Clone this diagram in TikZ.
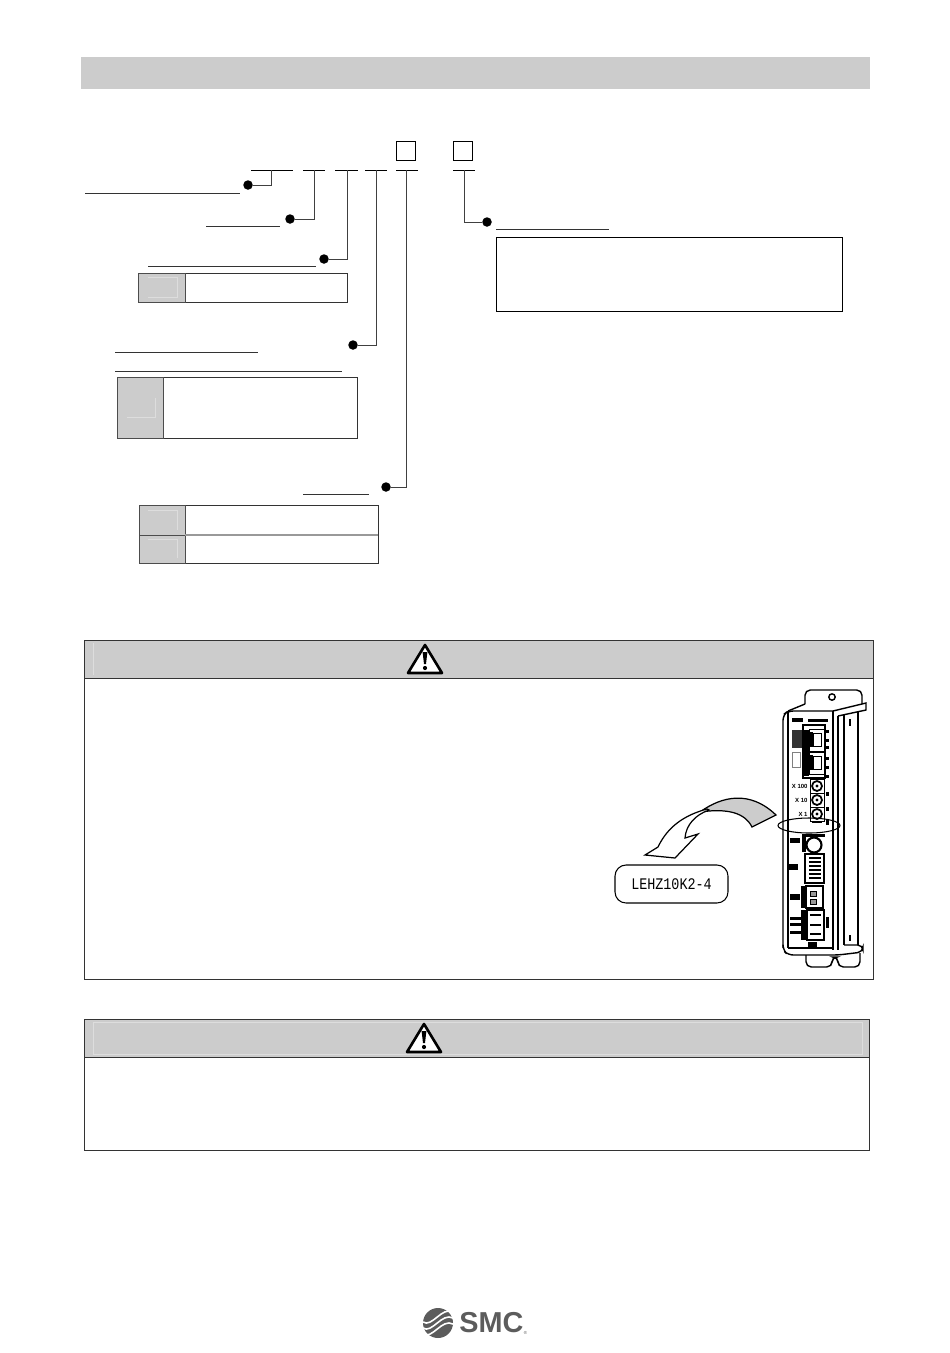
\documentclass[tikz,border=0pt]{standalone}
\usepackage{fontspec}
\setsansfont{Liberation Sans}
\setmonofont{Liberation Mono}
\usepackage{xcolor}
\usetikzlibrary{positioning,calc}
\definecolor{bar}{HTML}{CCCCCC}
\definecolor{ghost}{HTML}{DDDDDD}
\definecolor{logo}{HTML}{5C5C5C}

\begin{document}
\begin{tikzpicture}[
  x=0.02cm, y=-0.02cm,
  line width=0.55pt,
  every node/.style={inner sep=0pt},
  callout/.style={circle, fill=black, minimum size=0.19cm},
  lead/.style={draw=black!75},
  rule/.style={draw=black!80},
  panel/.style={draw=black!80, fill=white},
  cell/.style={draw=black!70, fill=bar},
  ghostline/.style={draw=ghost, line width=0.4pt},
  outline/.style={draw=black, line width=0.8pt},
  knob/.style={circle, draw=black, fill=white, line width=1pt, minimum size=0.2cm},
  tag/.style={font=\sffamily\bfseries\fontsize{3.4}{3.4}\selectfont}
]
  \useasboundingbox (0,0) rectangle (950,1353);

  % Title bar
  \fill[bar] (81,57) rectangle (870,89);

  % Code boxes and their underlines
  \draw[draw=black] (396,141) rectangle (415,160);
  \draw[draw=black] (453,141) rectangle (472,160);
  \foreach \xa/\xb in {251/293,303/325,335/358,365/387,396/418,453/475}
    \draw[draw=black] (\xa,170) -- (\xb,170);

  % Callouts
  \node[callout] (dotSeries) at (248,185) {};
  \node[callout] (dotSize) at (290,219) {};
  \node[callout] (dotStroke) at (324,259) {};
  \node[callout] (dotMotor) at (353,345) {};
  \node[callout] (dotBus) at (386,487) {};
  \node[callout] (dotOption) at (487,222) {};
  \coordinate (tapSeries) at (271,170);
  \coordinate (tapSize) at (314,170);
  \coordinate (tapStroke) at (347,170);
  \coordinate (tapMotor) at (376,170);
  \coordinate (tapBus) at (406,170);
  \coordinate (tapOption) at (464,170);
  \draw[lead] (tapSeries) |- (dotSeries);
  \draw[lead] (tapSize) |- (dotSize);
  \draw[lead] (tapStroke) |- (dotStroke);
  \draw[lead] (tapMotor) |- (dotMotor);
  \draw[lead] (tapBus) |- (dotBus);
  \draw[lead] (tapOption) |- (dotOption);

  % Label underlines
  \draw[rule] (85,193) -- (240,193);
  \draw[rule] (206,226) -- (280,226);
  \draw[rule] (148,266) -- (316,266);
  \draw[rule] (115,352) -- (258,352);
  \draw[rule] (115,371) -- (342,371);
  \draw[rule] (303,494) -- (369,494);
  \draw[rule] (496,229) -- (609,229);

  % Option box
  \draw[panel, draw=black] (496,237) rectangle (842,311);

  % Stroke table
  \draw[panel] (185,273) rectangle (347,302);
  \draw[cell] (138,273) rectangle (185,302);
  \draw[ghostline] (148,277) -- (177,277) -- (177,297) -- (148,297);

  % Motor table
  \draw[panel] (163,377) rectangle (357,438);
  \draw[cell] (117,377) rectangle (163,438);
  \draw[ghostline] (127,417) -- (155,417) -- (155,398);

  % Bus table
  \draw[panel] (185,505) rectangle (378,563);
  \draw[cell] (139,505) rectangle (185,535);
  \draw[cell] (139,535) rectangle (185,563);
  \draw[draw=black!40, line width=0.9pt] (185,535) -- (378,535);
  \draw[ghostline] (148,510) -- (177,510) -- (177,530);
  \draw[ghostline] (148,539) -- (177,539) -- (177,558);

  % First warning frame
  \draw[draw=black!80, fill=white] (84,640) rectangle (873,979);
  \draw[draw=black!80, fill=bar] (84,640) rectangle (873,678);
  \draw[ghostline] (93,643) -- (93,675);
  \draw[draw=black, fill=white, line width=1.5pt, line join=round]
    (425,645) -- (442,673) -- (408,673) -- cycle;
  \fill (422.6,652) -- (427.4,652) -- (426,664) -- (424,664) -- cycle;
  \fill (425,668) circle (2.1);

  % Second warning frame
  \draw[draw=black!80, fill=white] (84,1019) rectangle (869,1150);
  \draw[draw=black!80, fill=bar] (84,1019) rectangle (869,1057);
  \draw[ghostline] (93,1022) rectangle (862,1054);
  \draw[draw=black, fill=white, line width=1.5pt, line join=round]
    (424,1024) -- (441,1052) -- (407,1052) -- cycle;
  \fill (421.6,1031) -- (426.4,1031) -- (425,1043) -- (423,1043) -- cycle;
  \fill (424,1047) circle (2.1);

  % Controller outline
  \draw[outline, rounded corners=3pt] (805,704) -- (805,690) -- (862,690) -- (862,704);
  \draw[outline] (832,697) circle (3.2);
  \draw[outline, rounded corners=3pt] (783,948) -- (783,715) -- (788,711) -- (833,711);
  \draw[outline] (788,711) -- (805,704);
  \draw[outline] (833,711) -- (866,703) -- (866,710) -- (838,716);
  \draw[outline] (788,711) -- (788,948) (833,711) -- (833,950) (838,716) -- (838,950)
    (844,714) -- (844,945) (858,711) -- (858,945);
  \draw[outline, rounded corners=3pt] (783,946) -- (783,950) -- (788,955) -- (838,955) -- (863,952) -- (863,945) -- (844,945);
  \draw[outline] (788,948) -- (833,948);
  \draw[outline, rounded corners=3pt]
    (806,955) -- (806,967) -- (832,967) -- (832,957) -- (838,957) -- (838,967) -- (860,967) -- (860,953);
  \fill (849,719) rectangle (851,726);
  \fill (849,935) rectangle (851,941);

  % Controller front, top half
  \fill (792,718) rectangle (803,722);
  \fill (808,719) rectangle (828,722);
  \fill[black!80] (792,730) rectangle (802,748);
  \draw[draw=black!50] (792,752) rectangle (800,767);
  \draw[draw=black, line width=0.9pt] (803,725) rectangle (825,778);
  \fill (804,730) rectangle (809,776);
  \foreach \y in {729,752} {
    \draw[draw=black] (809,\y) rectangle (824,\y+22);
    \fill (809,\y+3) rectangle (813,\y+18);
    \draw[draw=black] (813,\y+4) rectangle (821,\y+17);
  }
  \foreach \y in {730,739,746,757,766,775}
    \fill (826,\y) rectangle (829,\y+3);
  \foreach \y/\val in {786/X 100,800/X 10,814/X 1} {
    \draw[draw=black] (810,\y-7) rectangle (824,\y+7);
    \node[knob] at (817,\y) {};
    \fill (817,\y) circle (1.6);
    \node[tag, anchor=east] at (808,\y) {\val};
  }
  \foreach \y in {792,807}
    \fill (826,\y) rectangle (829,\y+4);

  % Controller front, bottom half
  \fill (812,821) rectangle (822,822.5);
  \fill (826,820) rectangle (829,825);
  \fill (802,835) rectangle (806,852);
  \fill (802,834) rectangle (825,837);
  \draw[draw=black, line width=1.2pt, fill=white] (814,845) circle (7.5);
  \fill (790,838) rectangle (800,843);
  \draw[outline] (805,854) rectangle (824,883);
  \foreach \y in {858,862,866,870,874,878}
    \draw[draw=black, line width=0.7pt] (809,\y) -- (821,\y);
  \fill (789,864) rectangle (798,870);
  \draw[outline] (806,886) rectangle (823,908);
  \fill (801,886) rectangle (805,908);
  \fill (790,894) rectangle (800,900);
  \foreach \y in {891,899}
    \draw[draw=black, fill=black!40] (810,\y) rectangle (816,\y+5);
  \draw[outline] (807,910) rectangle (824,940);
  \fill (801,910) rectangle (807,940);
  \foreach \y in {915,925,934}
    \draw[draw=black, line width=0.8pt] (810,\y) -- (821,\y);
  \foreach \y in {917,923,931}
    \fill (790,\y) rectangle (802,\y+3);
  \fill (826,917) rectangle (829,928);
  \fill (808,942) rectangle (817,947);

  % Marker ellipse
  \draw[draw=black, line width=0.6pt] (809,825.5) ellipse (31 and 7.5);

  % Turn-over arrow
  \draw[draw=black, fill=bar, line width=0.7pt]
    (700,812) .. controls (722,796) and (750,790) .. (776,815)
    -- (752,827) .. controls (745,813) and (728,808) .. (700,812) -- cycle;
  \draw[draw=black, fill=white, line width=0.7pt]
    (707,809) .. controls (685,815) and (668,826) .. (658,847)
    -- (645,855) -- (675,858) -- (698,834) -- (685,838)
    .. controls (686,825) and (695,815) .. (709,810) -- cycle;

  % Part number label
  \node[draw=black, line width=0.6pt, fill=white, rounded corners=0.22cm,
        minimum width=2.26cm, minimum height=0.76cm,
        font=\ttfamily\fontsize{9.2}{10}\selectfont] (partLabel) at (671.5,884)
    {\scalebox{0.83}[1]{LEHZ10K2-4}};

  % Logo
  \fill[logo] (438,1323) circle (15);
  \foreach \y in {-6,0,6}
    \draw[draw=white, line width=0.9pt]
      (423,1328+\y) .. controls (432,1334+\y) and (442,1312+\y) .. (453,1318+\y);
  \node[text=logo, font=\sffamily\bfseries\fontsize{16.4}{16}\selectfont] (logoText) at (491.5,1323) {SMC};
  \node[text=logo, font=\sffamily\fontsize{2.5}{3}\selectfont] (logoMark) at (525.5,1333) {®};
\end{tikzpicture}
\end{document}
